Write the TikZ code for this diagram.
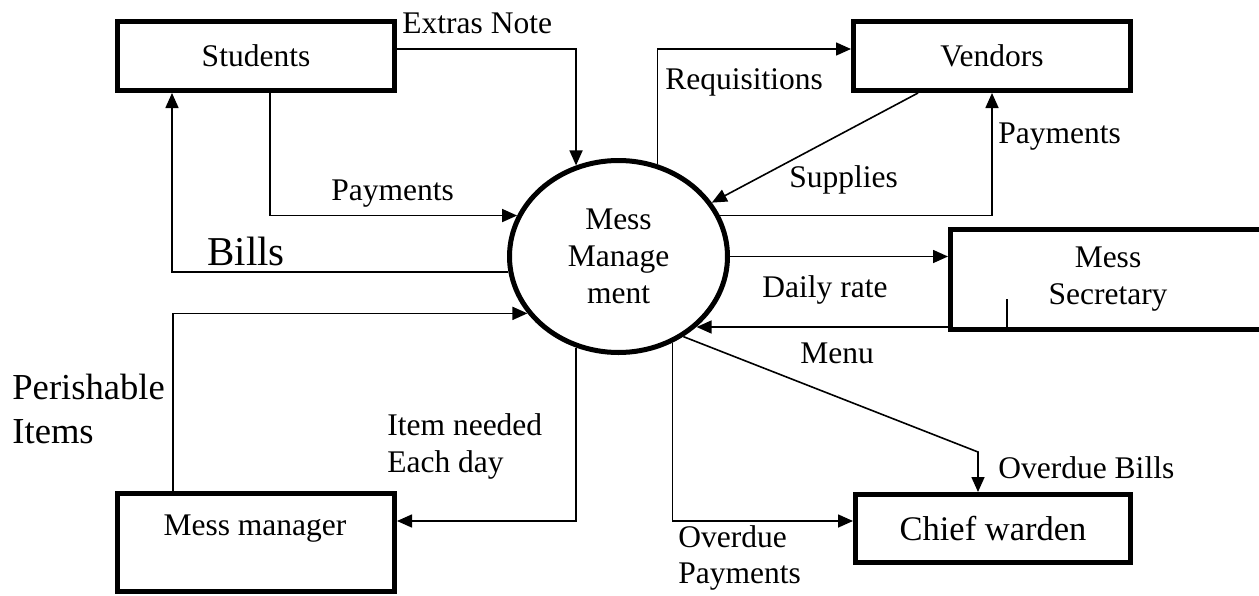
\documentclass[tikz,border=0pt]{standalone}
\usepackage{fontspec}
\setmainfont{Liberation Serif}
\usetikzlibrary{arrows.meta,shapes.geometric}
\begin{document}
\begin{tikzpicture}[x=0.5pt,y=-0.5pt,
  ent/.style={draw,line width=2.5pt,rectangle,inner sep=0pt,minimum width=138.5pt,minimum height=34.5pt,font=\fontsize{15.75}{18.5}\selectfont,align=center},
  proc/.style={draw,line width=2.5pt,ellipse,inner sep=0pt,minimum width=109pt,minimum height=96pt,font=\fontsize{15.75}{18.5}\selectfont,align=center},
  flow/.style={draw,line width=0.8pt,-{Triangle[length=7.5pt,width=6.5pt]}},
  lbl/.style={anchor=base west,inner sep=0pt,font=\fontsize{15.75}{18.5}\selectfont},
  biglbl/.style={lbl,font=\fontsize{18.3}{22}\selectfont},
]
\path[use as bounding box] (0,0) rectangle (1259,595);
\clip (0,0) rectangle (1259,595);

% entities
\node[ent] (stu) at (256,56) {Students};
\node[ent] (ven) at (992,56) {Vendors};
\node[ent,minimum width=137.5pt,minimum height=34pt,font=\fontsize{17.25}{20}\selectfont] (cw) at (993,528.5) {Chief warden};
\node[ent,minimum height=49pt] (mgr) at (256,542.5) {};
\node[lbl,anchor=base] (mgrtxt) at (255,535) {Mess manager};
\node[ent,minimum width=157.5pt,minimum height=50pt] (sec) at (1108,279.5) {Mess\\Secretary};
\node[proc] (mm) at (618.5,256.5) {Mess\\Manage\\ment};

% small inner line in Mess Secretary box
\draw[line width=0.8pt] ([xshift=29.5pt,yshift=1.25pt]sec.south west) -- ++(0,-31);

% connectors
\draw[flow] ([yshift=3.5pt]stu.east) -| (mm.115);
\draw[flow] ([xshift=7pt]stu.south) |- (mm.158);
\draw[flow] (mm.188) -| ([xshift=-42pt]stu.south);
\draw[flow] (mm.67) |- ([yshift=3.5pt]ven.west);
\draw[flow] ([xshift=-37pt]ven.south) -- (mm.30);
\draw[flow] (mm.22) -| (ven.south);
\draw[flow] (mm.east) -- (mm.east -| sec.west);
\draw[flow] ([yshift=2.5pt]sec.south west) -- ([yshift=2.5pt]sec.south west -| mm.-42);
\coordinate (bend) at (978,452);
\draw[flow] (mm.-51) -- (bend) -- (bend |- cw.north);
\draw[flow] (mm.-58) |- ([yshift=3.75pt]cw.west);
\draw[flow] (mm.-115) |- ([yshift=10.75pt]mgr.east);
\draw[flow] ([xshift=-41.5pt]mgr.north) |- (mm.-148);

% labels
\node[lbl] (l1) at (402,33) {Extras Note};
\node[lbl] (l2) at (331,200) {Payments};
\node[lbl,font=\fontsize{20.5}{24}\selectfont] (l3) at (207,265) {Bills};
\node[lbl] (l4) at (665,89) {Requisitions};
\node[lbl] (l5) at (789,187) {Supplies};
\node[lbl] (l6) at (998,143) {Payments};
\node[lbl] (l7) at (762,297) {Daily rate};
\node[lbl] (l8) at (800,363) {Menu};
\node[lbl] (l9) at (998,478) {Overdue Bills};
\node[lbl] (l10a) at (678,547) {Overdue};
\node[lbl] (l10b) at (678,583) {Payments};
\node[lbl] (l11a) at (387,435) {Item needed};
\node[lbl] (l11b) at (387,472) {Each day};
\node[biglbl] (l12a) at (12,399) {Perishable};
\node[biglbl] (l12b) at (12,443) {Items};
\end{tikzpicture}
\end{document}
